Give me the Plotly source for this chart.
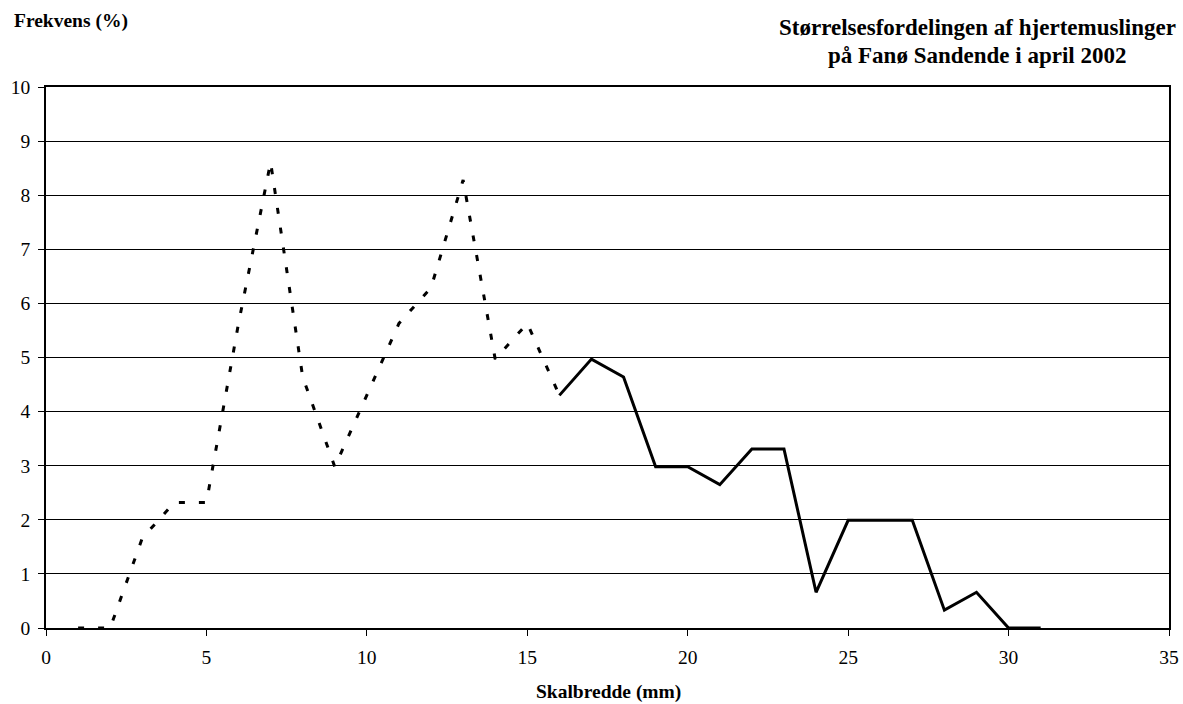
import plotly.graph_objects as go

# Data (frequency in %)
x_dotted = [1, 2, 3, 4, 5, 6, 7, 8, 9, 10, 11, 12, 13, 14, 15, 16]
y_dotted = [0.0, 0.0, 1.66, 2.32, 2.32, 5.63, 8.61, 4.64, 2.98, 4.30, 5.63, 6.29, 8.28, 4.97, 5.63, 4.30]

x_solid = [16, 17, 18, 19, 20, 21, 22, 23, 24, 25, 26, 27, 28, 29, 30, 31]
y_solid = [4.30, 4.97, 4.64, 2.98, 2.98, 2.65, 3.31, 3.31, 0.66, 1.99, 1.99, 1.99, 0.33, 0.66, 0.0, 0.0]

x_ticks = [0, 5, 10, 15, 20, 25, 30, 35]
y_ticks = [0, 1, 2, 3, 4, 5, 6, 7, 8, 9, 10]

title_line1 = "Størrelsesfordelingen af hjertemuslinger"
title_line2 = "på Fanø Sandende i april 2002"
y_title = "Frekvens (%)"
x_title = "Skalbredde (mm)"

W, H = 1183, 704
L, R, T, B = 46, 1169, 87, 628  # plot area pixel bounds

FONT = "Liberation Serif, Times New Roman, serif"


def px_x(p):
    return (p - L) / (R - L)


def px_y(p):
    return (B - p) / (B - T)


fig = go.Figure()
fig.add_trace(go.Scatter(
    x=x_dotted, y=y_dotted, mode="lines",
    line=dict(color="black", width=3, dash="6px,14px"),
    showlegend=False, hoverinfo="x+y",
))
fig.add_trace(go.Scatter(
    x=x_solid, y=y_solid, mode="lines",
    line=dict(color="black", width=3),
    showlegend=False, hoverinfo="x+y",
))

fig.update_layout(
    width=W, height=H,
    margin=dict(l=L, r=W - R, t=T, b=H - B, pad=0, autoexpand=False),
    paper_bgcolor="white", plot_bgcolor="white",
    font=dict(family=FONT, color="black", size=19.5),
    xaxis=dict(
        range=[0, 35], tickvals=x_ticks, ticktext=[str(v) for v in x_ticks],
        showgrid=False, zeroline=False,
        showline=True, linecolor="black", linewidth=1.5, mirror=True,
        ticks="outside", ticklen=6, tickcolor="black", tickwidth=1,
        tickfont=dict(size=19.5, family=FONT), ticklabelstandoff=5,
    ),
    yaxis=dict(
        range=[0, 10], tickvals=y_ticks, ticktext=[str(v) for v in y_ticks],
        showgrid=True, gridcolor="black", gridwidth=1, zeroline=False,
        showline=True, linecolor="black", linewidth=1.5, mirror=True,
        ticks="outside", ticklen=6, tickcolor="black", tickwidth=1,
        tickfont=dict(size=19.5, family=FONT), ticklabelstandoff=4,
    ),
    annotations=[
        dict(text="<b>" + y_title + "</b>", xref="paper", yref="paper",
             x=px_x(12), y=px_y(21.5), xanchor="left", yanchor="middle",
             showarrow=False, font=dict(size=19.5, family=FONT)),
        dict(text="<b>" + title_line1 + "</b>", xref="paper", yref="paper",
             x=px_x(977), y=px_y(28), xanchor="center", yanchor="middle",
             showarrow=False, font=dict(size=23, family=FONT)),
        dict(text="<b>" + title_line2 + "</b>", xref="paper", yref="paper",
             x=px_x(977), y=px_y(55.5), xanchor="center", yanchor="middle",
             showarrow=False, font=dict(size=23, family=FONT)),
        dict(text="<b>" + x_title + "</b>", xref="paper", yref="paper",
             x=px_x(608), y=px_y(691.5), xanchor="center", yanchor="middle",
             showarrow=False, font=dict(size=19.5, family=FONT)),
    ],
)

fig.write_html(
    "out.html",
    config={"displayModeBar": False, "responsive": False},
    post_script="document.body.style.margin='0';document.body.style.overflow='hidden';",
)
